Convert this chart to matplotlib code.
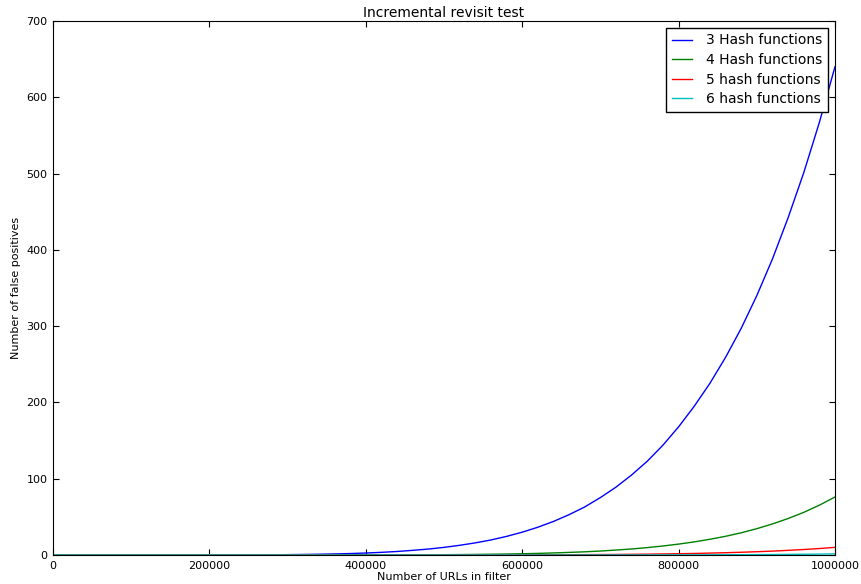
import matplotlib
matplotlib.use('Agg')
import matplotlib.pyplot as plt

# number of URLs inserted into the filter (sampled every 20000)
urls = list(range(0, 1000001, 20000))

# false positives
fp3 = [0] * 11 + [0.1, 0.1, 0.2, 0.3,
       0.47, 0.7, 1.0, 1.4, 1.9, 2.6, 3.5, 4.6, 6.1, 7.8,
       10.0, 12.7, 15.9, 19.7, 24.4, 29.9, 36.4, 44, 52.9, 63,
       75.3, 89, 105, 123, 144, 168, 195, 225, 259, 297,
       340, 388, 442, 501, 567, 640]
fp4 = [0] * 18 + [0.05, 0.06,
       0.08, 0.1, 0.15, 0.2, 0.3, 0.42, 0.56, 0.75, 1.0, 1.28,
       1.65, 2.1, 2.7, 3.4, 4.2, 5.2, 6.5, 7.9, 9.7, 11.8,
       14.3, 17.2, 20.6, 24.5, 29.1, 34.5, 40.7, 47.8, 55.9, 65.3, 76]
fp5 = [0] * 30 + [0.17, 0.2, 0.3, 0.4, 0.5, 0.6, 0.7, 0.9, 1.1, 1.4,
       1.7, 2.0, 2.5, 3.0, 3.6, 4.3, 5.1, 6.1, 7.2, 8.5, 10]
fp6 = [0] * 35 + [0.03, 0.05, 0.07, 0.1, 0.12, 0.15, 0.2, 0.26,
       0.33, 0.42, 0.53, 0.65, 0.8, 1.0, 1.2, 1.5]

labels = ['3 Hash functions', '4 Hash functions', '5 hash functions', '6 hash functions']

fig = plt.figure(figsize=(8.61, 5.84), dpi=100)
ax = fig.add_axes([53/861, 29/584, 782/861, 534/584])

ax.plot(urls, fp3, color='b', lw=1, label=labels[0])
ax.plot(urls, fp4, color='g', lw=1, label=labels[1])
ax.plot(urls, fp5, color='r', lw=1, label=labels[2])
ax.plot(urls, fp6, color='c', lw=1, label=labels[3])

ax.set_xlim(0, 1000000)
ax.set_ylim(0, 700)
ax.set_xticks(range(0, 1000001, 200000))
ax.ticklabel_format(style='plain', useOffset=False)
ax.tick_params(direction='in', top=True, right=True, labelsize=8, length=4, pad=4)

ax.set_title('Incremental revisit test', fontsize=10, pad=3)
ax.set_xlabel('Number of URLs in filter', fontsize=8, labelpad=1)
ax.set_ylabel('Number of false positives', fontsize=8)

leg = ax.legend(loc='upper right', fontsize=10, fancybox=False, framealpha=1,
                edgecolor='black', handlelength=1.5, handletextpad=1.0,
                labelspacing=0.4, borderpad=0.4, borderaxespad=0.5)
leg.get_frame().set_linewidth(1)

plt.savefig('out.png', dpi=100)
